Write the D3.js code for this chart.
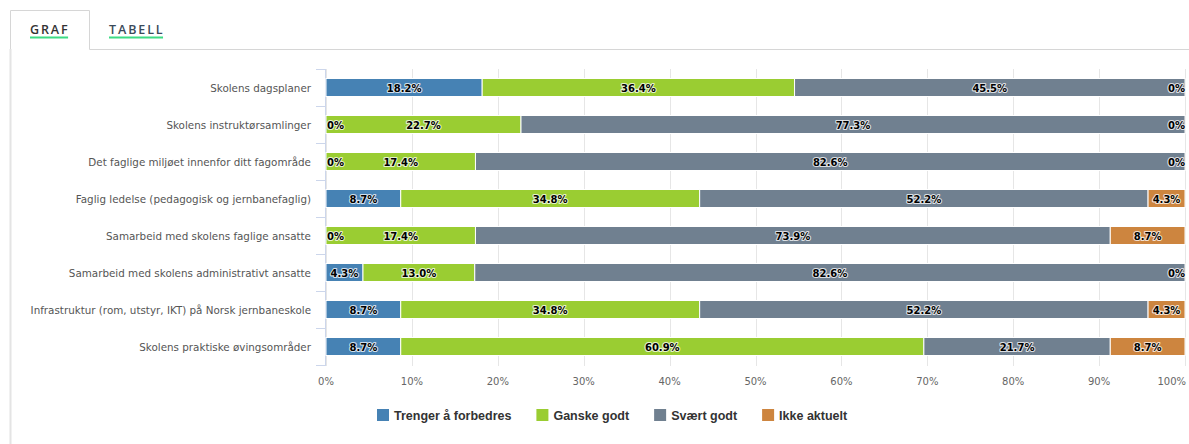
<!DOCTYPE html>
<html><head><meta charset="utf-8">
<script src="https://cdn.jsdelivr.net/npm/d3@7/dist/d3.min.js"></script>
<style>
html,body{margin:0;padding:0;background:#fff;}
svg{display:block;}
</style></head>
<body>
<svg id="c" width="1189" height="444"></svg>
<script>
const categories = [
  "Skolens dagsplaner",
  "Skolens instruktørsamlinger",
  "Det faglige miljøet innenfor ditt fagområde",
  "Faglig ledelse (pedagogisk og jernbanefaglig)",
  "Samarbeid med skolens faglige ansatte",
  "Samarbeid med skolens administrativt ansatte",
  "Infrastruktur (rom, utstyr, IKT) på Norsk jernbaneskole",
  "Skolens praktiske øvingsområder"
];
const seriesNames = ["Trenger å forbedres", "Ganske godt", "Svært godt", "Ikke aktuelt"];
const seriesColors = ["#4682b4", "#9acd32", "#708090", "#cd853f"];
const trengerValues = [18.2, 0, 0, 8.7, 0, 4.3, 8.7, 8.7];
const ganskeValues  = [36.4, 22.7, 17.4, 34.8, 17.4, 13.0, 34.8, 60.9];
const svaertValues  = [45.5, 77.3, 82.6, 52.2, 73.9, 82.6, 52.2, 21.7];
const ikkeValues    = [0, 0, 0, 4.3, 8.7, 0, 4.3, 8.7];
const xTicks = [0, 10, 20, 30, 40, 50, 60, 70, 80, 90, 100];
const tabLabels = ["GRAF", "TABELL"];

const svg = d3.select("#c");

// Tabs
const tabs = svg.append("g");
tabs.append("path").attr("d", "M10.5,444 V10.5 H89.5 V49.5 H1189")
  .attr("fill", "none").attr("stroke", "#d6d6d6").attr("stroke-width", 1);
tabs.append("line").attr("x1", 10.5).attr("x2", 10.5).attr("y1", 49).attr("y2", 444)
  .attr("stroke", "#e4e4e4").attr("stroke-width", 2);
const tabX = [30, 109];
tabLabels.forEach((t, i) => {
  const tx = tabs.append("text").attr("x", tabX[i]).attr("y", 34)
    .attr("font-family", "'Open Sans', 'DejaVu Sans', sans-serif")
    .attr("font-size", 12.5).attr("font-weight", 600)
    .attr("letter-spacing", 1.9).attr("fill", i === 0 ? "#333" : "#3a4a5a").text(t);
  const w = tx.node().getComputedTextLength();
  tabs.append("rect").attr("x", tabX[i]).attr("y", 36.5).attr("width", w - 1.5).attr("height", 2)
    .attr("fill", "#3ddc84");
});

// Chart
const plotL = 326, plotR = 1185, plotT = 69, plotB = 365;
const x = d3.scaleLinear().domain([0, 100]).range([plotL, plotR]);
const y = d3.scaleBand().domain(categories).range([plotT, plotB]).paddingInner(0).paddingOuter(0);

const g = svg.append("g");
g.selectAll("line.grid").data(xTicks).enter().append("line")
  .attr("x1", d => Math.round(x(d)) + 0.5).attr("x2", d => Math.round(x(d)) + 0.5)
  .attr("y1", plotT).attr("y2", plotB + 1)
  .attr("stroke", "#e6e6e6").attr("stroke-width", 1);

g.append("line").attr("x1", plotL - 0.5).attr("x2", plotL - 0.5).attr("y1", plotT).attr("y2", plotB)
  .attr("stroke", "#ccd6eb");
const bounds = d3.range(categories.length + 1).map(i => plotT + i * y.step());
g.selectAll("line.tick").data(bounds).enter().append("line")
  .attr("x1", plotL - 10).attr("x2", plotL).attr("y1", d => Math.round(d) + 0.5).attr("y2", d => Math.round(d) + 0.5)
  .attr("stroke", "#ccd6eb");

g.selectAll("text.cat").data(categories).enter().append("text")
  .attr("x", 311).attr("y", d => y(d) + y.bandwidth() / 2 + 4)
  .attr("text-anchor", "end")
  .attr("font-family", "'DejaVu Sans', Verdana, sans-serif").attr("font-size", 10.35)
  .attr("fill", "#555").text(d => d);

const xt = g.selectAll("text.xt").data(xTicks).enter().append("text")
  .attr("y", 385).attr("text-anchor", "middle")
  .attr("font-family", "'DejaVu Sans', Verdana, sans-serif").attr("font-size", 10)
  .attr("fill", "#666").text(d => d + "%");
xt.each(function(d) {
  const w = this.getComputedTextLength();
  const cx = Math.min(plotR + 1 - w / 2, x(d));
  d3.select(this).attr("x", cx);
});

const allSeries = [trengerValues, ganskeValues, svaertValues, ikkeValues];
const rows = categories.map((c, i) => {
  const vals = allSeries.map(s => s[i]);
  const sum = d3.sum(vals);
  let acc = 0;
  return vals.map((v, k) => {
    const s0 = acc / sum * 100; acc += v; const s1 = acc / sum * 100;
    return { cat: c, k, v, s0, s1 };
  });
});
const segs = rows.flat();
const barH = 18;
g.selectAll("rect.bar").data(segs.filter(d => d.v > 0)).enter().append("rect")
  .attr("x", d => x(d.s0)).attr("width", d => x(d.s1) - x(d.s0))
  .attr("y", d => y(d.cat) + (y.bandwidth() - barH) / 2).attr("height", barH)
  .attr("fill", d => seriesColors[d.k]).attr("stroke", "#fff").attr("stroke-width", 1);

const labels = g.selectAll("text.lbl").data(segs).enter().append("text")
  .attr("y", d => y(d.cat) + y.bandwidth() / 2 + 4)
  .attr("text-anchor", "middle")
  .attr("font-family", "'DejaVu Sans', Verdana, sans-serif").attr("font-size", 10).attr("font-weight", "bold")
  .attr("fill", "#000").attr("stroke", "rgba(255,255,255,0.75)").attr("stroke-width", 2.2)
  .attr("paint-order", "stroke").attr("stroke-linejoin", "round")
  .text(d => (d.v === 0 ? "0" : d.v.toFixed(1)) + "%");
labels.each(function(d) {
  const w = this.getComputedTextLength();
  let cx = (x(d.s0) + x(d.s1)) / 2;
  cx = Math.max(plotL + w / 2 + 1, Math.min(plotR - w / 2, cx));
  d3.select(this).attr("x", cx);
});

const leg = svg.append("g");
let lx = 0;
seriesNames.forEach((n, i) => {
  const it = leg.append("g");
  it.append("rect").attr("x", 0).attr("y", -11).attr("width", 12).attr("height", 12).attr("fill", seriesColors[i]);
  const t = it.append("text").attr("x", 17).attr("y", 0)
    .attr("font-family", "'Liberation Sans', Arial, sans-serif").attr("font-size", 12.5).attr("font-weight", "bold")
    .attr("fill", "#333").text(n);
  const w = 17 + t.node().getComputedTextLength();
  it.attr("transform", `translate(${lx},0)`);
  lx += w + 25;
});
const totalW = lx - 25;
leg.attr("transform", `translate(${Math.round(612 - totalW / 2)},420)`);
</script>
</body></html>
